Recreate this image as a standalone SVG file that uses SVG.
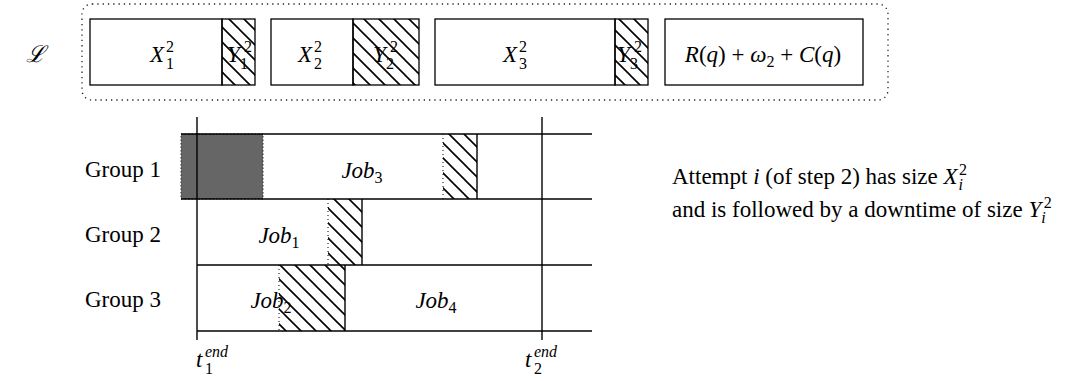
<svg xmlns="http://www.w3.org/2000/svg" width="1065" height="381" viewBox="0 0 1065 381">
<defs>
<pattern id="hatch" patternUnits="userSpaceOnUse" width="15" height="15">
<path d="M0,0 L15,15 M-3,12 L3,18 M12,-3 L18,3" stroke="#000" stroke-width="1.6" fill="none"/>
</pattern>
</defs>
<style>
text{font-family:"Liberation Serif","Times New Roman",serif;fill:#000}
.t{font-size:23px}
.m{font-size:23px;font-style:italic}
.s{font-size:16px;font-style:normal}
.si{font-size:16px;font-style:italic}
.box{fill:#fff;stroke:#000;stroke-width:1.3}
.hb{fill:url(#hatch);stroke:#000;stroke-width:1.3}
.hf{fill:url(#hatch);stroke:none}
.ln{stroke:#000;stroke-width:1.4;fill:none}
.dot{stroke:#000;stroke-width:1;stroke-dasharray:1 3;fill:none}
</style>
<rect x="82" y="4" width="806" height="96" rx="10" ry="10" fill="none" stroke="#222" stroke-width="1.3" stroke-dasharray="1.3 4"/>
<text class="m" x="26" y="62">ℒ</text>
<g id="attempt1">
<rect class="box" x="90" y="19" width="132" height="66"/>
<rect class="hb" x="222" y="19" width="33" height="66"/>
<text class="m" x="150" y="62">X<tspan class="s" x="166" y="69">1</tspan><tspan class="s" x="166" y="52">2</tspan></text>
<text class="m" x="227" y="62">Y<tspan class="s" x="240" y="69">1</tspan><tspan class="s" x="244" y="52">2</tspan></text>
</g>
<g id="attempt2">
<rect class="box" x="271" y="19" width="82" height="66"/>
<rect class="hb" x="353" y="19" width="66" height="66"/>
<text class="m" x="298" y="62">X<tspan class="s" x="314" y="69">2</tspan><tspan class="s" x="314" y="52">2</tspan></text>
<text class="m" x="373" y="62">Y<tspan class="s" x="386" y="69">2</tspan><tspan class="s" x="390" y="52">2</tspan></text>
</g>
<g id="attempt3">
<rect class="box" x="435" y="19" width="180" height="66"/>
<rect class="hb" x="615" y="19" width="33" height="66"/>
<text class="m" x="503" y="62">X<tspan class="s" x="519" y="69">3</tspan><tspan class="s" x="519" y="52">2</tspan></text>
<text class="m" x="617" y="62">Y<tspan class="s" x="630" y="69">3</tspan><tspan class="s" x="634" y="52">2</tspan></text>
</g>
<g id="final">
<rect class="box" x="665" y="19" width="198" height="66"/>
<text class="t" x="763" y="62" text-anchor="middle"><tspan font-style="italic">R</tspan>(<tspan font-style="italic">q</tspan>) + <tspan font-style="italic">ω</tspan><tspan class="s" dy="5">2</tspan><tspan dy="-5"> + </tspan><tspan font-style="italic">C</tspan>(<tspan font-style="italic">q</tspan>)</text>
</g>
<g id="group1">
<text class="t" x="85" y="177">Group 1</text>
<rect x="181" y="134" width="82" height="65" fill="#666" stroke="#333" stroke-width="1" stroke-dasharray="1.5 2"/>
<rect class="hf" x="443" y="134" width="34" height="65"/>
<line class="dot" x1="443" y1="134" x2="443" y2="199"/>
<line class="ln" x1="477" y1="134" x2="477" y2="199"/>
<text class="m" x="362" y="178" text-anchor="middle">Job<tspan class="s" dy="5">3</tspan></text>
</g>
<g id="group2">
<text class="t" x="85" y="242">Group 2</text>
<rect class="hf" x="328" y="199" width="34" height="66"/>
<line class="dot" x1="328" y1="199" x2="328" y2="265"/>
<line class="ln" x1="362" y1="199" x2="362" y2="265"/>
<text class="m" x="279" y="243" text-anchor="middle">Job<tspan class="s" dy="5">1</tspan></text>
</g>
<g id="group3">
<text class="t" x="85" y="307">Group 3</text>
<rect class="hf" x="279" y="265" width="66" height="66"/>
<line class="dot" x1="279" y1="265" x2="279" y2="331"/>
<line class="ln" x1="345" y1="265" x2="345" y2="331"/>
<text class="m" x="271" y="308" text-anchor="middle">Job<tspan class="s" dy="5">2</tspan></text>
<text class="m" x="436" y="308" text-anchor="middle">Job<tspan class="s" dy="5">4</tspan></text>
</g>
<g id="connectors">
<line class="ln" x1="181" y1="134" x2="592" y2="134"/>
<line class="ln" x1="181" y1="199" x2="592" y2="199"/>
<line class="ln" x1="197" y1="265" x2="592" y2="265"/>
<line class="ln" x1="197" y1="331" x2="592" y2="331"/>
<line class="ln" x1="197" y1="117" x2="197" y2="340"/>
<line class="ln" x1="542" y1="117" x2="542" y2="340"/>
</g>
<g id="labels">
<text class="m" x="196" y="367">t<tspan class="s" x="205" y="374">1</tspan><tspan class="si" x="205" y="357">end</tspan></text>
<text class="m" x="525" y="367">t<tspan class="s" x="534" y="374">2</tspan><tspan class="si" x="534" y="357">end</tspan></text>
</g>
<g id="legend">
<text class="t" x="672" y="184">Attempt <tspan font-style="italic">i</tspan> (of step 2) has size <tspan font-style="italic">X</tspan><tspan class="si" dx="1" dy="6">i</tspan><tspan class="s" dx="-4" dy="-15">2</tspan></text>
<text class="t" x="672" y="217">and is followed by a downtime of size <tspan font-style="italic">Y</tspan><tspan class="si" dx="0" dy="6">i</tspan><tspan class="s" dx="-2" dy="-15">2</tspan></text>
</g>
</svg>
